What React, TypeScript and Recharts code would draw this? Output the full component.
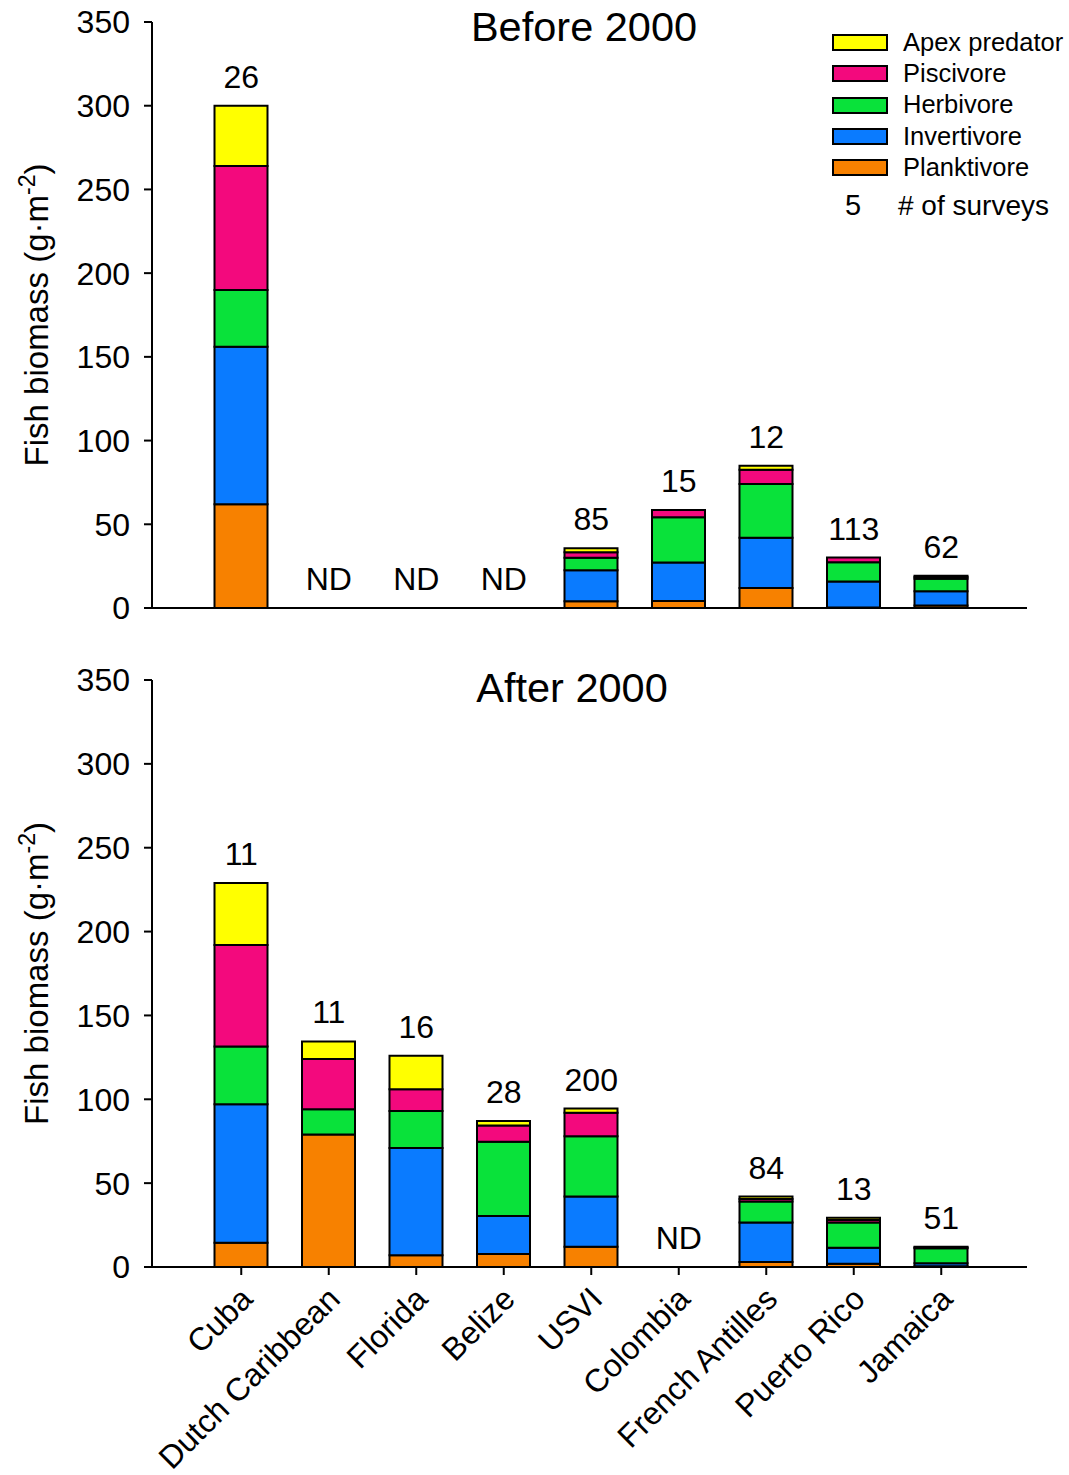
import React from "react";
import { ComposedChart, Bar, Line, XAxis, YAxis, LabelList } from "recharts";

const categories = [
  "Cuba",
  "Dutch Caribbean",
  "Florida",
  "Belize",
  "USVI",
  "Colombia",
  "French Antilles",
  "Puerto Rico",
  "Jamaica",
];

// stack order bottom -> top
const groups = ["Planktivore", "Invertivore", "Herbivore", "Piscivore", "Apex predator"];
const groupColors = ["#F78100", "#0A7BFF", "#09E23A", "#F3097D", "#FFFF00"];

const beforePlanktivore = [62, 0, 0, 0, 4, 4.2, 12, 0.3, 1.5];
const beforeInvertivore = [94, 0, 0, 0, 18.5, 23, 30, 15.5, 8.5];
const beforeHerbivore = [34, 0, 0, 0, 7.5, 27, 32, 11.5, 7.5];
const beforePiscivore = [74, 0, 0, 0, 3.3, 4.3, 8.5, 2.8, 1];
const beforeApex = [36, 0, 0, 0, 2.4, 0, 2.5, 0, 0.8];
const beforeSurveys = ["26", "ND", "ND", "ND", "85", "15", "12", "113", "62"];

const afterPlanktivore = [14.5, 79, 7, 7.7, 12, 0, 3, 2, 0.5];
const afterInvertivore = [82.5, 0, 64, 22.7, 30, 0, 23.5, 9.5, 1.7];
const afterHerbivore = [34.5, 15, 22, 44.3, 36, 0, 12.5, 15, 9];
const afterPiscivore = [60.5, 30, 13, 9.6, 14, 0, 1.5, 1.5, 0.5];
const afterApex = [37, 10.5, 20, 2.7, 2.5, 0, 1.5, 1.3, 0.3];
const afterSurveys = ["11", "11", "16", "28", "200", "ND", "84", "13", "51"];

const yTicks = [0, 50, 100, 150, 200, 250, 300, 350];

const FONT = "'Liberation Sans', Arial, sans-serif";

function buildRows(series: number[][], surveys: string[]) {
  return categories.map((name, i) => {
    const row: Record<string, any> = { name, surveys: surveys[i] };
    let total = 0;
    groups.forEach((g, k) => {
      row[g] = series[k][i];
      total += series[k][i];
    });
    row.total = total;
    return row;
  });
}

const beforeData = buildRows(
  [beforePlanktivore, beforeInvertivore, beforeHerbivore, beforePiscivore, beforeApex],
  beforeSurveys
);
const afterData = buildRows(
  [afterPlanktivore, afterInvertivore, afterHerbivore, afterPiscivore, afterApex],
  afterSurveys
);

const YLabel = (props: any) => {
  const vb = props.viewBox;
  const cy = vb.y + vb.height / 2;
  const bx = 48;
  return (
    <text
      x={bx}
      y={cy}
      transform={`rotate(-90, ${bx}, ${cy})`}
      textAnchor="middle"
      fontSize={33}
      fontFamily={FONT}
      fill="#000"
    >
      <tspan>Fish biomass (g·m</tspan>
      <tspan dy={-13} fontSize={23}>-2</tspan>
      <tspan dy={13}>)</tspan>
    </text>
  );
};

const SurveyLabel = (props: any) => {
  const { x, y, value } = props;
  return (
    <text x={x} y={y - 18} textAnchor="middle" fontSize={32} fontFamily={FONT} fill="#000">
      {value}
    </text>
  );
};

const SlantTick = (props: any) => {
  const { x, y, payload } = props;
  return (
    <g transform={`translate(${x + 13}, ${y + 24}) rotate(-45)`}>
      <text x={0} y={0} textAnchor="end" fontSize={32} fontFamily={FONT} fill="#000">
        {payload.value}
      </text>
    </g>
  );
};

const LegendBox = () => {
  const rows = groups.map((g, k) => ({ g, c: groupColors[k] })).reverse();
  return (
    <div
      style={{
        position: "absolute",
        left: 832,
        top: 27,
        fontFamily: FONT,
        color: "#000",
        whiteSpace: "nowrap",
      }}
    >
      {rows.map((r) => (
        <div key={r.g} style={{ display: "flex", alignItems: "center", height: 31.25 }}>
          <div style={{ width: 52, height: 13, background: r.c, border: "2px solid #000" }} />
          <span style={{ marginLeft: 15, fontSize: 25.5, lineHeight: 1 }}>{r.g}</span>
        </div>
      ))}
      <div style={{ display: "flex", alignItems: "center", height: 45 }}>
        <span style={{ width: 42, textAlign: "center", fontSize: 29, lineHeight: 1 }}>5</span>
        <span style={{ marginLeft: 24, fontSize: 28, lineHeight: 1 }}># of surveys</span>
      </div>
    </div>
  );
};

function Panel(props: {
  data: any[];
  height: number;
  marginTop: number;
  marginBottom: number;
  xHeight: number;
  slantLabels: boolean;
}) {
  const { data, height, marginTop, marginBottom, xHeight, slantLabels } = props;
  return (
    <ComposedChart
      width={1069}
      height={height}
      data={data}
      margin={{ top: marginTop, right: 42, bottom: marginBottom, left: 92 }}
      barSize={53}
    >
      <XAxis
        dataKey="name"
        type="category"
        padding={{ left: 45.5, right: 42 }}
        height={xHeight}
        axisLine={{ stroke: "#000", strokeWidth: 2 }}
        tickLine={{ stroke: "#000", strokeWidth: 2 }}
        tickSize={8}
        interval={0}
        tick={slantLabels ? <SlantTick /> : false}
      />
      <YAxis
        type="number"
        domain={[0, 350]}
        ticks={yTicks}
        width={60}
        axisLine={{ stroke: "#000", strokeWidth: 2 }}
        tickLine={{ stroke: "#000", strokeWidth: 2 }}
        tickSize={8}
        tickMargin={14}
        tick={{ fontSize: 32, fontFamily: FONT, fill: "#000" }}
        label={<YLabel />}
      />
      {groups.map((g, k) => (
        <Bar
          key={g}
          dataKey={g}
          stackId="a"
          fill={groupColors[k]}
          stroke="#000"
          strokeWidth={2}
          isAnimationActive={false}
        />
      ))}
      <Line
        dataKey="total"
        stroke="none"
        dot={false}
        activeDot={false}
        isAnimationActive={false}
      >
        <LabelList dataKey="surveys" content={<SurveyLabel />} />
      </Line>
    </ComposedChart>
  );
}

const titleStyle: React.CSSProperties = {
  position: "absolute",
  fontFamily: FONT,
  fontSize: 41.5,
  lineHeight: "42px",
  color: "#000",
  whiteSpace: "nowrap",
  transform: "translateX(-50%)",
};

export default function App() {
  return (
    <div
      style={{
        position: "absolute",
        left: 0,
        top: 0,
        width: 1069,
        height: 1475,
        background: "#fff",
        overflow: "hidden",
      }}
    >
      <div style={{ position: "absolute", left: 0, top: 0 }}>
        <Panel
          data={beforeData}
          height={640}
          marginTop={22}
          marginBottom={12}
          xHeight={20}
          slantLabels={false}
        />
      </div>
      <div style={{ position: "absolute", left: 0, top: 640 }}>
        <Panel
          data={afterData}
          height={835}
          marginTop={40}
          marginBottom={8}
          xHeight={200}
          slantLabels={true}
        />
      </div>
      <LegendBox />
      <div style={{ ...titleStyle, left: 584, top: 6 }}>Before 2000</div>
      <div style={{ ...titleStyle, left: 572, top: 667 }}>After 2000</div>
    </div>
  );
}
